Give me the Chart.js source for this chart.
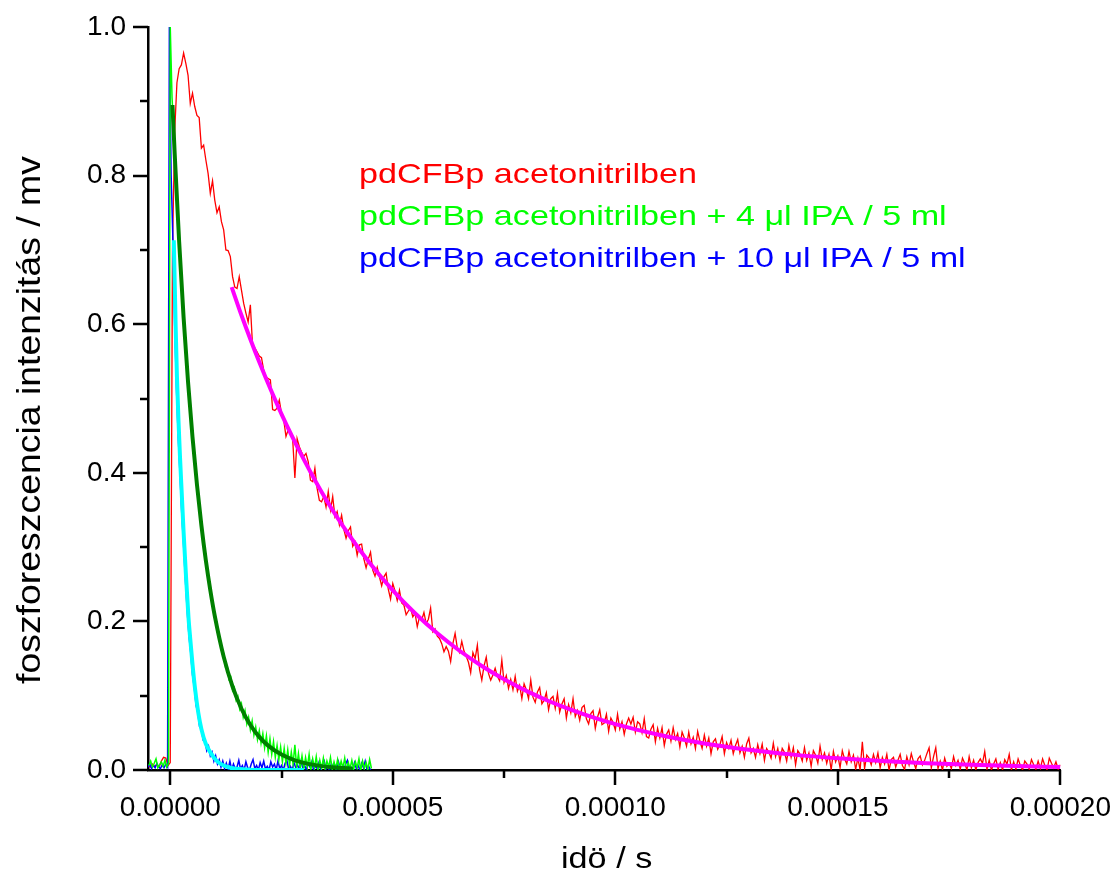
<!DOCTYPE html>
<html><head><meta charset="utf-8">
<script src="https://cdn.jsdelivr.net/npm/chart.js@4/dist/chart.umd.min.js"></script>
<style>html,body{margin:0;padding:0;background:#fff}#wrap{width:1117px;height:874px;position:relative}</style>
</head><body><div id="wrap"><canvas id="c"></canvas></div>
<script>
// ---------- data (time in microseconds, intensity in mV) ----------
const redStartUs = -5, redStepUs = 0.5;
const redValues = [
.006,.004,.008,.005,.007,.004,.012,.017,.016,.006,.010,
.700,.860,.925,.944,.949,.965,.951,.935,.897,.911,
.893,.881,.878,.837,.841,.821,.803,.776,.793,.767,
.750,.758,.738,.727,.700,.699,.691,.664,.650,.648,
.664,.646,.628,.615,.603,.626,.570,.568,.563,.557,
.555,.538,.529,.527,.525,.485,.484,.487,.498,.480,
.471,.449,.458,.453,.446,.393,.446,.435,.428,.422,
.426,.415,.390,.388,.406,.379,.363,.361,.368,.354,
.375,.350,.368,.341,
.348,.330,.343,.324,.312,.322,.327,.301,.307,.289,
.303,.304,.284,.272,.284,.293,.269,.261,.273,.260,
.248,.260,.265,.243,.230,.251,.241,.228,.242,.225,
.222,.209,.214,.218,.206,.211,.193,.206,.202,.212,
.197,.203,.218,.186,.190,.180,.177,.170,.159,.166,
.160,.146,.170,.184,.164,.158,.173,.160,.153,.145,
.131,.158,.150,.168,.135,.121,.140,.152,.130,.121,
.128,.137,.126,.120,.148,.118,.127,.110,.122,.108,
.126,.106,.114,.096,.116,.108,.096,.121,.098,.091,
.105,.111,.089,.094,.104,.081,.096,.099,.083,.103,
.078,.089,.096,.070,.088,.077,.096,.072,.080,.067,
.084,.087,.069,.062,.076,.080,.056,.071,.081,.061,
.063,.075,.052,.070,.064,.054,.075,.055,.065,.048,
.062,.070,.062,.071,.051,.065,.062,.050,.069,.045,
.043,.055,.061,.038,.056,.043,.057,.033,.048,.054,
.039,.057,.041,.049,.031,.051,.043,.032,.051,.035,
.044,.029,.052,.039,.029,.047,.032,.043,.022,.038,
.042,.028,.034,.045,.022,.037,.029,.040,.022,.033,
.041,.023,.032,.017,.035,.043,.023,.029,.017,.034,
.022,.035,.013,.029,.024,.016,.036,.018,.029,.012,
.029,.024,.012,.033,.017,.030,.007,.026,.021,.012,
.030,.013,.023,.005,.026,.020,.009,.032,.014,.023,
.009,.021,.000,.025,.011,.019,.003,.026,.015,.008,
.025,.011,.020,.001,.016,.000,.038,.002,.020,.016,
.007,.021,.010,.023,.003,.017,.008,.021,.000,.014,
.017,.004,.013,.021,.006,.001,.018,.007,.022,.011,
.002,.015,.019,.007,.013,.022,.030,.003,.018,.030,
.002,.012,.000,.016,.005,.009,.002,.018,.006,.013,
.001,.016,.009,.000,.018,.003,.013,.000,.010,.015,
.009,.025,.001,.013,.000,.008,.015,.001,.010,.000,
.014,.008,.021,.000,.011,.001,.015,.006,.000,.012,
.008,.001,.014,.007,.001,.012,.002,.015,.006,.000,
.016,.009,.003,.011,.001,.007
];

const greenStartUs = -4.8, greenStepUs = 0.4;
const greenValues = [
.006,.012,.004,.009,.015,.003,.007,.011,.005,.013,.004,.009,
1.000,.905,.858,.802,.758,.709,.670,.626,.593,.553,
.524,.489,.464,.432,.410,.382,.363,.337,.321,.298,
.284,.262,.252,.231,.223,.204,.199,.180,.176,.158,
.157,.139,.140,.122,.125,.107,.111,.094,.099,.082,
.089,.071,.080,.062,.071,.054,.066,.047,.058,.041,
.053,.036,.049,.030,.046,.024,.042,.021,.038,.017,
.033,.014,.031,.011,.029,.009,.027,.006,.024,.008,
.034,.004,.022,.003,.019,.002,.017,.004,.021,.001,
.015,.003,.018,.000,.013,.002,.016,.001,.012,.004,
.017,.000,.011,.002,.014,.001,.012,.003,.016,.000,
.010,.002,.013,.001,.011,.003,.015,.000,.012,.002,
.010,.001,.014,.002
];

const blueStartUs = -5.0, blueStepUs = 0.4;
const blueValues = [
.004,.008,.002,.006,.003,.009,.004,.002,.007,.003,.008,.004,
1.000,.800,.713,.598,.512,.447,.397,.343,.302,.256,
.215,.181,.158,.128,.111,.087,.077,.058,.055,.040,
.039,.026,.032,.019,.024,.012,.019,.008,.014,.004,
.012,.002,.009,.001,.012,.000,.008,.002,.004,.013,
.001,.006,.000,.011,.003,.000,.008,.014,.002,.006,
.000,.010,.003,.012,.001,.005,.000,.011,.004,.008,
.000,.012,.002,.006,.000,.009,.013,.001,.005,.000,
.010,.003,.007,.000,.012,.002,.006,.000,.009,.004,
.011,.000,.005,.002,.010,.000,.007,.012,.001,.004,
.000,.009,.003,.006,.000,.011,.002,.005,.000,.008,
.013,.001,.004,.000,.010,.002,.006,.000,.009,.003,
.012,.001,.005,.000
];

const magentaFitTimesUs = [13.8,16,20,25,30,35,40,45,50,55,60,65,70,75,80,85,90,95,100,110,120,130,140,150,160,170,180,190,200];
const magentaFitValues  = [0.650,0.612,0.549,0.479,0.418,0.364,0.3177,0.2772,0.2418,0.2109,0.1840,0.1605,0.1400,0.1221,0.1065,0.0929,0.0811,0.0707,0.0617,0.0470,0.0357,0.0272,0.0207,0.0158,0.0120,0.0091,0.0069,0.0053,0.0040];

const darkGreenFitTimesUs = [0.5,1,2,3,4,5,6,7,8,9,10,12,14,16,18,20,22,25,28,31,34,37,41];
const darkGreenFitValues  = [0.895,0.829,0.711,0.609,0.522,0.448,0.384,0.329,0.282,0.242,0.2075,0.1526,0.1122,0.0824,0.0606,0.0446,0.0328,0.0207,0.0130,0.0082,0.0052,0.0033,0.0018];

const cyanFitTimesUs = [0.8,1.2,1.5,1.85,2.2,2.6,3.0,3.5,4.1,4.5,5.0,5.6,6.3,7.0,8.0,9.3,10.5,12.0,13.5,15.5,18.0,22.0,30.0];
const cyanFitValues  = [0.713,0.60,0.53,0.47,0.42,0.37,0.32,0.265,0.205,0.176,0.142,0.108,0.077,0.055,0.035,0.021,0.012,0.006,0.003,0.0012,0.0004,0.0001,0.0];

const xMajorTicks = [0, 0.00005, 0.0001, 0.00015, 0.0002];
const xTickLabels = ['0.00000','0.00005','0.00010','0.00015','0.00020'];
const xMinorTicks = [0.000025, 0.000075, 0.000125, 0.000175];
const yMajorTicks = [0, 0.2, 0.4, 0.6, 0.8, 1.0];
const yTickLabels = ['0.0','0.2','0.4','0.6','0.8','1.0'];
const yMinorTicks = [0.1, 0.3, 0.5, 0.7, 0.9];

const legendLines  = ['pdCFBp acetonitrilben', 'pdCFBp acetonitrilben + 4 \u03bcl IPA / 5 ml', 'pdCFBp acetonitrilben + 10 \u03bcl IPA / 5 ml'];
const legendColors = ['#ff0000', '#00ff00', '#0000ff'];
const xTitle = 'id\u00f6 / s';
const yTitle = 'foszforeszcencia intenzit\u00e1s / mv';

// ---------- helpers ----------
const US = 1e-6;
const FONT = "'Liberation Sans', Arial, Helvetica, sans-serif";
function sampled(startUs, stepUs, values) {
  return values.map((v, i) => ({ x: (startUs + i * stepUs) * US, y: v }));
}
function paired(timesUs, values) {
  return timesUs.map((t, i) => ({ x: t * US, y: values[i] }));
}

const tickPlugin = {
  id: 'tickPlugin',
  afterDraw(chart, args, opts) {
    const { ctx, chartArea, scales } = chart;
    const x = scales.x, y = scales.y;
    ctx.save();
    ctx.strokeStyle = '#000';
    ctx.lineWidth = opts.width;
    ctx.lineCap = 'butt';
    ctx.beginPath();
    const xt = (list, len) => list.forEach(v => {
      const p = Math.round(x.getPixelForValue(v));
      ctx.moveTo(p, chartArea.bottom); ctx.lineTo(p, chartArea.bottom + len);
    });
    const yt = (list, len) => list.forEach(v => {
      const p = Math.round(y.getPixelForValue(v));
      ctx.moveTo(chartArea.left, p); ctx.lineTo(chartArea.left - len, p);
    });
    xt(xMajorTicks, opts.major); xt(xMinorTicks, opts.minor);
    yt(yMajorTicks, opts.major); yt(yMinorTicks, opts.minor);
    ctx.stroke();
    ctx.restore();
  }
};

// legend lines and axis titles (drawn as canvas text, slightly widened like the original)
const textPlugin = {
  id: 'textPlugin',
  afterDraw(chart, args, o) {
    const ctx = chart.ctx;
    const draw = (text, color, size, sx, x, y, rot) => {
      ctx.save();
      ctx.translate(x, y);
      if (rot) ctx.rotate(rot);
      ctx.scale(sx, 1);
      ctx.font = size + 'px ' + FONT;
      ctx.fillStyle = color;
      ctx.textAlign = 'left';
      ctx.textBaseline = 'alphabetic';
      ctx.fillText(text, 0, 0);
      ctx.restore();
    };
    const L = o.legend;
    legendLines.forEach((t, i) => draw(t, legendColors[i], L.size, L.sx, L.x, L.y0 + i * L.dy, 0));
    draw(xTitle, '#000', o.xTitle.size, o.xTitle.sx, o.xTitle.x, o.xTitle.y, 0);
    draw(yTitle, '#000', o.yTitle.size, o.yTitle.sx, o.yTitle.x, o.yTitle.y, -Math.PI / 2);
  }
};

const common = { showLine: true, pointRadius: 0, pointHoverRadius: 0, fill: false, tension: 0 };
const fitCommon = { showLine: true, pointRadius: 0, pointHoverRadius: 0, fill: false, cubicInterpolationMode: 'monotone', borderWidth: 4 };

new Chart(document.getElementById('c'), {
  type: 'scatter',
  data: {
    datasets: [
      Object.assign({ label: 'cyan fit', data: paired(cyanFitTimesUs, cyanFitValues), borderColor: '#00ffff', order: 1 }, fitCommon),
      Object.assign({ label: 'dark green fit', data: paired(darkGreenFitTimesUs, darkGreenFitValues), borderColor: '#008000', order: 2 }, fitCommon),
      Object.assign({ label: 'magenta fit', data: paired(magentaFitTimesUs, magentaFitValues), borderColor: '#ff00ff', order: 3 }, fitCommon),
      Object.assign({ label: legendLines[1], data: sampled(greenStartUs, greenStepUs, greenValues), borderColor: '#00ff00', borderWidth: 1.5, order: 4 }, common),
      Object.assign({ label: legendLines[2], data: sampled(blueStartUs, blueStepUs, blueValues), borderColor: '#0000ff', borderWidth: 1.5, order: 5 }, common),
      Object.assign({ label: legendLines[0], data: sampled(redStartUs, redStepUs, redValues), borderColor: '#ff0000', borderWidth: 1.3, order: 6 }, common)
    ]
  },
  options: {
    responsive: true,
    maintainAspectRatio: false,
    animation: false,
    events: [],
    layout: { padding: { left: 0, right: 52, top: 27, bottom: 0 } },
    plugins: {
      legend: { display: false },
      tooltip: { enabled: false },
      tickPlugin: { width: 2.5, major: 15, minor: 8 },
      textPlugin: {
        legend: { x: 359, y0: 183, dy: 42, size: 28, sx: 1.22 },
        xTitle: { x: 561, y: 868, size: 30, sx: 1.14 },
        yTitle: { x: 40, y: 684, size: 34, sx: 1.1 }
      }
    },
    scales: {
      x: {
        type: 'linear', min: -0.000005, max: 0.0002,
        afterBuildTicks: s => { s.ticks = xMajorTicks.map(v => ({ value: v })); },
        afterFit: s => { s.height = 104; },
        grid: { display: false, drawTicks: true, tickLength: 15 },
        border: { display: true, color: '#000', width: 2.5 },
        ticks: { callback: (v, i) => xTickLabels[i], autoSkip: false, maxRotation: 0, minRotation: 0, padding: 6, color: '#000', font: { family: FONT, size: 28 } },
        title: { display: false }
      },
      y: {
        type: 'linear', min: 0, max: 1.0,
        afterBuildTicks: s => { s.ticks = yMajorTicks.map(v => ({ value: v })); },
        afterFit: s => { s.width = 148; },
        grid: { display: false, drawTicks: true, tickLength: 15 },
        border: { display: true, color: '#000', width: 2.5 },
        ticks: { callback: (v, i) => yTickLabels[i], autoSkip: false, padding: 7, color: '#000', font: { family: FONT, size: 28 } },
        title: { display: false }
      }
    }
  },
  plugins: [tickPlugin, textPlugin]
});
</script></body></html>
